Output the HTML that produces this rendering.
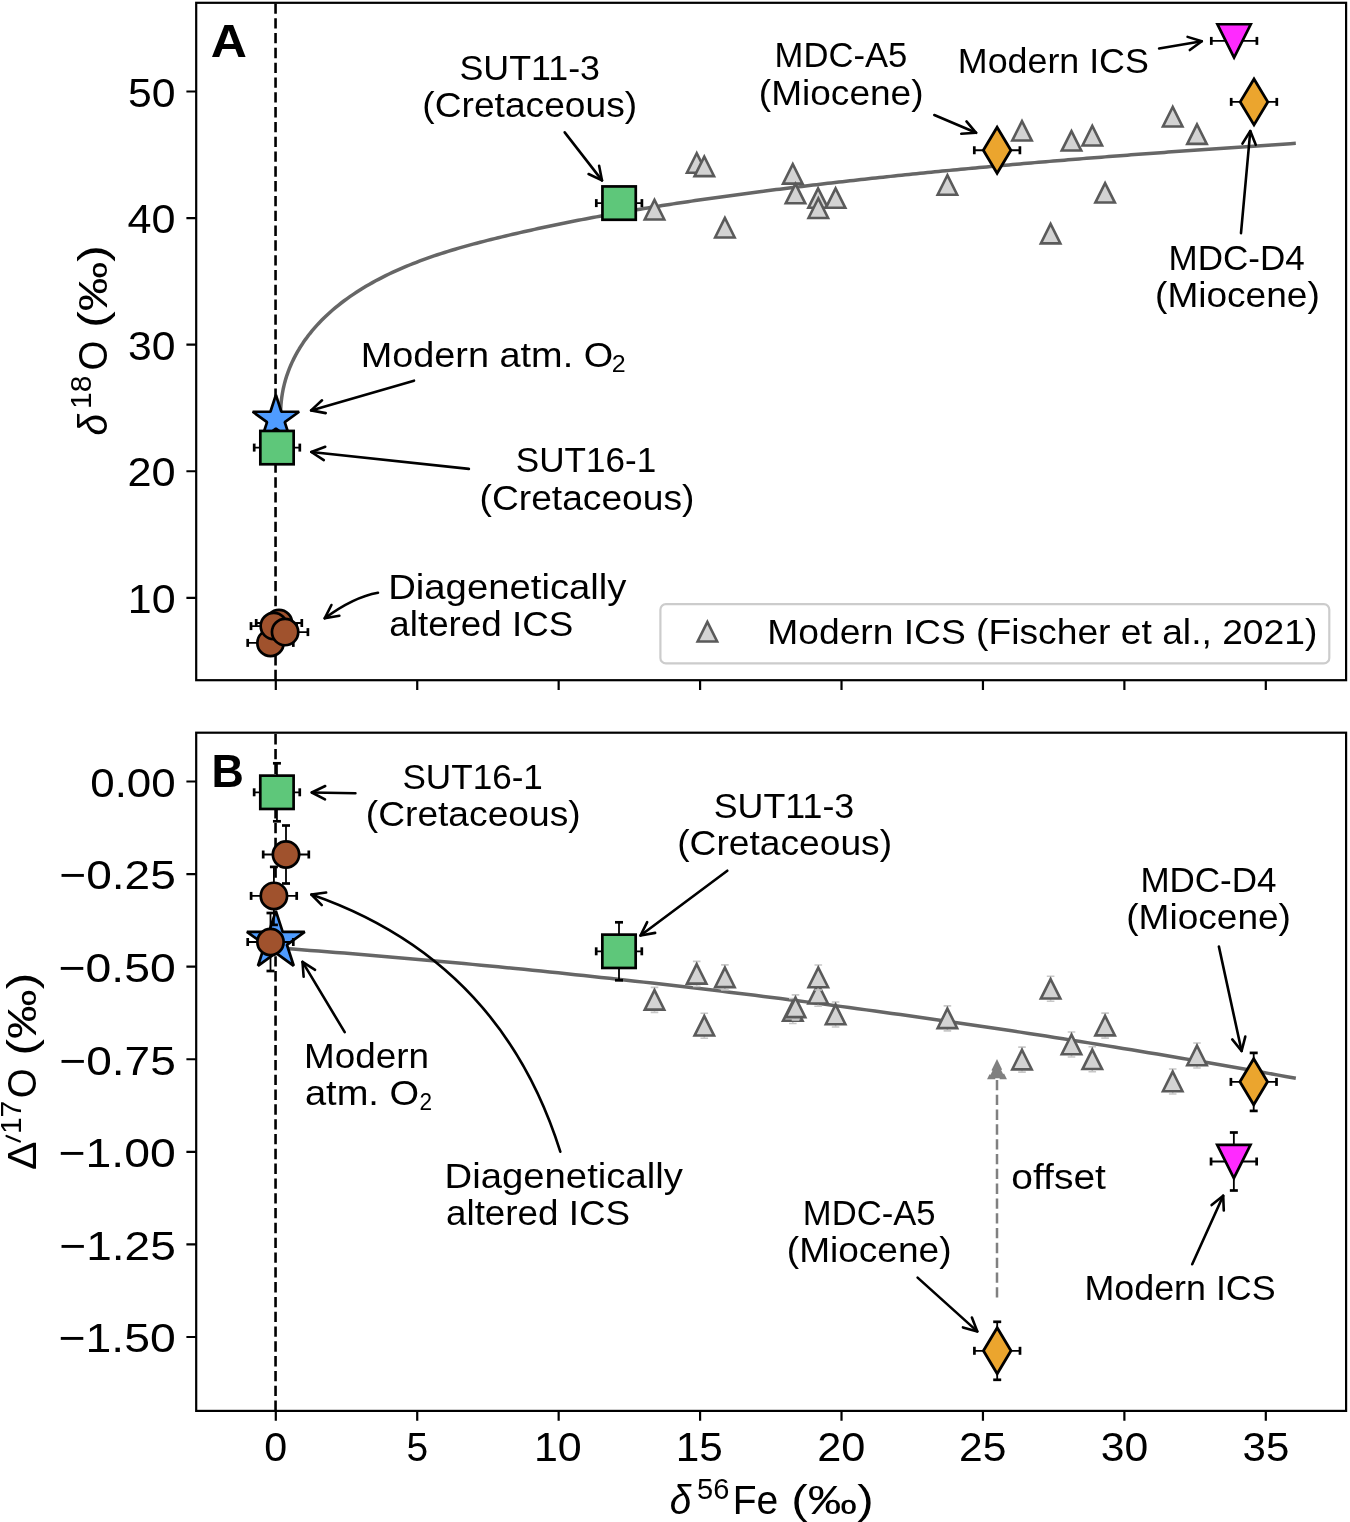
<!DOCTYPE html><html><head><meta charset="utf-8"><style>html,body{margin:0;padding:0;background:#fff;}svg{display:block;will-change:transform;}text{font-family:"Liberation Sans",sans-serif;fill:#000;}</style></head><body>
<svg width="1350" height="1522" viewBox="0 0 1350 1522">
<rect width="1350" height="1522" fill="#fff"/>
<path d="M275.55 680.2V2.8" stroke="#000" stroke-width="2.6" stroke-dasharray="10.35 4.46"/>
<path d="M275.55 1410.9V732.7" stroke="#000" stroke-width="2.6" stroke-dasharray="10.35 4.46"/>
<path d="M280.77 420.78L280.63 416.74L280.61 412.74L280.72 408.79L280.96 404.89L281.31 401.03L281.78 397.22L282.36 393.45L283.06 389.73L283.86 386.06L284.78 382.43L285.79 378.85L286.91 375.31L288.14 371.82L289.45 368.39L290.87 364.99L292.37 361.65L293.97 358.36L295.66 355.11L297.43 351.91L299.28 348.77L301.22 345.67L303.23 342.62L305.32 339.62L307.48 336.67L309.71 333.78L312.02 330.93L314.39 328.14L316.82 325.39L319.31 322.7L321.87 320.06L324.48 317.47L327.14 314.94L329.86 312.45L332.63 310.02L335.45 307.63L338.32 305.29L341.23 303L344.19 300.76L347.18 298.57L350.22 296.42L353.29 294.32L356.4 292.26L359.55 290.25L362.72 288.28L365.93 286.35L369.17 284.47L372.43 282.63L375.71 280.83L379.02 279.08L382.35 277.36L385.69 275.68L389.06 274.04L392.43 272.45L395.83 270.88L399.23 269.36L402.65 267.87L406.08 266.42L409.52 265L412.97 263.61L416.44 262.26L419.91 260.93L423.4 259.64L426.89 258.38L430.4 257.14L433.91 255.93L437.43 254.75L440.96 253.59L444.5 252.46L448.05 251.35L451.6 250.26L455.17 249.2L458.73 248.15L462.31 247.13L465.88 246.12L469.47 245.13L473.06 244.16L476.65 243.2L480.25 242.26L483.85 241.33L487.46 240.42L491.06 239.51L494.67 238.62L498.28 237.74L501.9 236.86L505.51 236L509.13 235.14L512.75 234.29L516.37 233.45L519.99 232.62L523.61 231.79L527.24 230.98L530.86 230.17L534.49 229.37L538.12 228.57L541.75 227.79L545.38 227.01L549.01 226.24L552.64 225.47L556.28 224.72L559.92 223.97L563.55 223.23L567.19 222.49L570.83 221.76L574.47 221.04L578.12 220.33L581.76 219.62L585.4 218.92L589.05 218.23L592.7 217.54L596.34 216.86L599.99 216.18L603.64 215.51L607.3 214.85L610.95 214.19L614.6 213.54L618.26 212.9L621.91 212.26L625.57 211.63L629.23 211L632.88 210.38L636.54 209.76L640.2 209.15L643.87 208.54L647.53 207.94L651.19 207.35L654.86 206.76L658.52 206.17L662.19 205.59L665.85 205.02L669.52 204.45L673.19 203.88L676.86 203.32L680.53 202.76L684.2 202.21L687.87 201.66L691.54 201.12L695.21 200.58L698.89 200.04L702.56 199.51L706.23 198.99L709.91 198.46L713.58 197.94L717.26 197.43L720.94 196.91L724.62 196.41L728.29 195.9L731.97 195.4L735.65 194.9L739.33 194.4L743.01 193.91L746.69 193.42L750.37 192.94L754.05 192.45L757.74 191.97L761.42 191.5L765.1 191.02L768.78 190.55L772.47 190.08L776.15 189.61L779.84 189.15L783.52 188.69L787.21 188.23L790.89 187.77L794.58 187.32L798.26 186.87L801.95 186.42L805.64 185.97L809.32 185.53L813.01 185.09L816.7 184.65L820.39 184.21L824.08 183.78L827.76 183.35L831.45 182.92L835.14 182.49L838.83 182.07L842.52 181.64L846.21 181.23L849.91 180.81L853.6 180.39L857.29 179.98L860.98 179.57L864.67 179.16L868.36 178.76L872.06 178.35L875.75 177.95L879.44 177.55L883.14 177.16L886.83 176.76L890.53 176.37L894.22 175.98L897.91 175.59L901.61 175.21L905.3 174.82L909 174.44L912.7 174.06L916.39 173.69L920.09 173.31L923.78 172.94L927.48 172.57L931.18 172.2L934.88 171.83L938.57 171.47L942.27 171.1L945.97 170.74L949.67 170.38L953.37 170.03L957.06 169.67L960.76 169.32L964.46 168.97L968.16 168.62L971.86 168.27L975.56 167.92L979.26 167.58L982.96 167.24L986.66 166.9L990.36 166.56L994.06 166.22L997.76 165.89L1001.46 165.55L1005.16 165.22L1008.86 164.89L1012.57 164.56L1016.27 164.24L1019.97 163.91L1023.67 163.59L1027.37 163.27L1031.07 162.95L1034.78 162.63L1038.48 162.31L1042.18 162L1045.88 161.68L1049.59 161.37L1053.29 161.06L1056.99 160.75L1060.7 160.44L1064.4 160.14L1068.1 159.83L1071.81 159.53L1075.51 159.23L1079.21 158.93L1082.92 158.63L1086.62 158.33L1090.33 158.04L1094.03 157.74L1097.73 157.45L1101.44 157.16L1105.14 156.87L1108.85 156.58L1112.55 156.29L1116.25 156.01L1119.96 155.72L1123.66 155.44L1127.37 155.15L1131.07 154.87L1134.78 154.59L1138.48 154.31L1142.19 154.03L1145.89 153.76L1149.6 153.48L1153.3 153.21L1157.01 152.93L1160.71 152.66L1164.42 152.39L1168.12 152.12L1171.83 151.85L1175.53 151.58L1179.24 151.32L1182.94 151.05L1186.65 150.79L1190.35 150.52L1194.06 150.26L1197.76 150L1201.47 149.74L1205.17 149.48L1208.88 149.22L1212.58 148.96L1216.28 148.7L1219.99 148.45L1223.69 148.19L1227.4 147.94L1231.1 147.68L1234.81 147.43L1238.51 147.18L1242.22 146.93L1245.92 146.67L1249.63 146.42L1253.33 146.18L1257.03 145.93L1260.74 145.68L1264.44 145.43L1268.15 145.19L1271.85 144.94L1275.55 144.7L1279.26 144.45L1282.96 144.21L1286.66 143.96L1290.37 143.72L1294.07 143.48" fill="none" stroke="#666" stroke-width="3.5" stroke-linecap="square" stroke-linejoin="round"/>
<path d="M275.8 947.8L284.36 948.44L292.91 949.08L301.47 949.73L310.03 950.39L318.59 951.05L327.14 951.73L335.7 952.41L344.26 953.1L352.81 953.79L361.37 954.5L369.93 955.21L378.49 955.93L387.04 956.66L395.6 957.39L404.16 958.14L412.71 958.89L421.27 959.65L429.83 960.42L438.39 961.19L446.94 961.97L455.5 962.76L464.06 963.56L472.61 964.37L481.17 965.18L489.73 966L498.28 966.83L506.84 967.67L515.4 968.51L523.96 969.36L532.51 970.23L541.07 971.09L549.63 971.97L558.18 972.85L566.74 973.74L575.3 974.64L583.86 975.55L592.41 976.47L600.97 977.39L609.53 978.32L618.08 979.26L626.64 980.2L635.2 981.16L643.76 982.12L652.31 983.09L660.87 984.07L669.43 985.05L677.98 986.04L686.54 987.04L695.1 988.05L703.66 989.07L712.21 990.09L720.77 991.12L729.33 992.16L737.88 993.21L746.44 994.27L755 995.33L763.56 996.4L772.11 997.48L780.67 998.56L789.23 999.66L797.78 1000.76L806.34 1001.87L814.9 1002.99L823.45 1004.11L832.01 1005.25L840.57 1006.39L849.13 1007.54L857.68 1008.69L866.24 1009.86L874.8 1011.03L883.35 1012.21L891.91 1013.4L900.47 1014.59L909.03 1015.79L917.58 1017L926.14 1018.22L934.7 1019.45L943.25 1020.68L951.81 1021.93L960.37 1023.18L968.93 1024.43L977.48 1025.7L986.04 1026.97L994.6 1028.25L1003.15 1029.54L1011.71 1030.84L1020.27 1032.14L1028.83 1033.46L1037.38 1034.78L1045.94 1036.1L1054.5 1037.44L1063.05 1038.78L1071.61 1040.13L1080.17 1041.49L1088.73 1042.86L1097.28 1044.24L1105.84 1045.62L1114.4 1047.01L1122.95 1048.41L1131.51 1049.81L1140.07 1051.23L1148.63 1052.65L1157.18 1054.08L1165.74 1055.51L1174.3 1056.96L1182.85 1058.41L1191.41 1059.87L1199.97 1061.34L1208.52 1062.81L1217.08 1064.3L1225.64 1065.79L1234.2 1067.29L1242.75 1068.8L1251.31 1070.31L1259.87 1071.83L1268.42 1073.36L1276.98 1074.9L1285.54 1076.45L1294.1 1078" fill="none" stroke="#666" stroke-width="3.5" stroke-linecap="square"/>
<path d="M654.5 199.95L644.75 219.45L664.25 219.45Z" fill="#d3d3d3" stroke="#5a5a5a" stroke-width="2.6" stroke-linejoin="miter"/>
<path d="M696.7 153.25L686.95 172.75L706.45 172.75Z" fill="#d3d3d3" stroke="#5a5a5a" stroke-width="2.6" stroke-linejoin="miter"/>
<path d="M704.3 156.6L694.55 176.1L714.05 176.1Z" fill="#d3d3d3" stroke="#5a5a5a" stroke-width="2.6" stroke-linejoin="miter"/>
<path d="M724.9 217.95L715.15 237.45L734.65 237.45Z" fill="#d3d3d3" stroke="#5a5a5a" stroke-width="2.6" stroke-linejoin="miter"/>
<path d="M792.8 164.15L783.05 183.65L802.55 183.65Z" fill="#d3d3d3" stroke="#5a5a5a" stroke-width="2.6" stroke-linejoin="miter"/>
<path d="M795.5 183.8L785.75 203.3L805.25 203.3Z" fill="#d3d3d3" stroke="#5a5a5a" stroke-width="2.6" stroke-linejoin="miter"/>
<path d="M818.1 188.3L808.35 207.8L827.85 207.8Z" fill="#d3d3d3" stroke="#5a5a5a" stroke-width="2.6" stroke-linejoin="miter"/>
<path d="M818.3 198.5L808.55 218L828.05 218Z" fill="#d3d3d3" stroke="#5a5a5a" stroke-width="2.6" stroke-linejoin="miter"/>
<path d="M835.6 188.3L825.85 207.8L845.35 207.8Z" fill="#d3d3d3" stroke="#5a5a5a" stroke-width="2.6" stroke-linejoin="miter"/>
<path d="M947.4 175.25L937.65 194.75L957.15 194.75Z" fill="#d3d3d3" stroke="#5a5a5a" stroke-width="2.6" stroke-linejoin="miter"/>
<path d="M1022 121.05L1012.25 140.55L1031.75 140.55Z" fill="#d3d3d3" stroke="#5a5a5a" stroke-width="2.6" stroke-linejoin="miter"/>
<path d="M1050.6 223.85L1040.85 243.35L1060.35 243.35Z" fill="#d3d3d3" stroke="#5a5a5a" stroke-width="2.6" stroke-linejoin="miter"/>
<path d="M1071.5 131.05L1061.75 150.55L1081.25 150.55Z" fill="#d3d3d3" stroke="#5a5a5a" stroke-width="2.6" stroke-linejoin="miter"/>
<path d="M1092.3 125.95L1082.55 145.45L1102.05 145.45Z" fill="#d3d3d3" stroke="#5a5a5a" stroke-width="2.6" stroke-linejoin="miter"/>
<path d="M1105.1 183.05L1095.35 202.55L1114.85 202.55Z" fill="#d3d3d3" stroke="#5a5a5a" stroke-width="2.6" stroke-linejoin="miter"/>
<path d="M1172.7 107L1162.95 126.5L1182.45 126.5Z" fill="#d3d3d3" stroke="#5a5a5a" stroke-width="2.6" stroke-linejoin="miter"/>
<path d="M1197 124.35L1187.25 143.85L1206.75 143.85Z" fill="#d3d3d3" stroke="#5a5a5a" stroke-width="2.6" stroke-linejoin="miter"/>
<path d="M654.5 987.4V1012.4 M650.7 987.4H658.3 M650.7 1012.4H658.3" stroke="#c8c8c8" stroke-width="1.6"/>
<path d="M654.5 990.15L644.75 1009.65L664.25 1009.65Z" fill="#d3d3d3" stroke="#5a5a5a" stroke-width="2.6" stroke-linejoin="miter"/>
<path d="M696.7 961.4V986.4 M692.9 961.4H700.5 M692.9 986.4H700.5" stroke="#c8c8c8" stroke-width="1.6"/>
<path d="M696.7 964.15L686.95 983.65L706.45 983.65Z" fill="#d3d3d3" stroke="#5a5a5a" stroke-width="2.6" stroke-linejoin="miter"/>
<path d="M704.3 1013.3V1038.3 M700.5 1013.3H708.1 M700.5 1038.3H708.1" stroke="#c8c8c8" stroke-width="1.6"/>
<path d="M704.3 1016.05L694.55 1035.55L714.05 1035.55Z" fill="#d3d3d3" stroke="#5a5a5a" stroke-width="2.6" stroke-linejoin="miter"/>
<path d="M724.9 964.9V989.9 M721.1 964.9H728.7 M721.1 989.9H728.7" stroke="#c8c8c8" stroke-width="1.6"/>
<path d="M724.9 967.65L715.15 987.15L734.65 987.15Z" fill="#d3d3d3" stroke="#5a5a5a" stroke-width="2.6" stroke-linejoin="miter"/>
<path d="M792.8 998.55V1023.55 M789 998.55H796.6 M789 1023.55H796.6" stroke="#c8c8c8" stroke-width="1.6"/>
<path d="M792.8 1001.3L783.05 1020.8L802.55 1020.8Z" fill="#d3d3d3" stroke="#5a5a5a" stroke-width="2.6" stroke-linejoin="miter"/>
<path d="M795.5 994.9V1019.9 M791.7 994.9H799.3 M791.7 1019.9H799.3" stroke="#c8c8c8" stroke-width="1.6"/>
<path d="M795.5 997.65L785.75 1017.15L805.25 1017.15Z" fill="#d3d3d3" stroke="#5a5a5a" stroke-width="2.6" stroke-linejoin="miter"/>
<path d="M818.1 981.2V1006.2 M814.3 981.2H821.9 M814.3 1006.2H821.9" stroke="#c8c8c8" stroke-width="1.6"/>
<path d="M818.1 983.95L808.35 1003.45L827.85 1003.45Z" fill="#d3d3d3" stroke="#5a5a5a" stroke-width="2.6" stroke-linejoin="miter"/>
<path d="M818.3 964.95V989.95 M814.5 964.95H822.1 M814.5 989.95H822.1" stroke="#c8c8c8" stroke-width="1.6"/>
<path d="M818.3 967.7L808.55 987.2L828.05 987.2Z" fill="#d3d3d3" stroke="#5a5a5a" stroke-width="2.6" stroke-linejoin="miter"/>
<path d="M835.6 1001.95V1026.95 M831.8 1001.95H839.4 M831.8 1026.95H839.4" stroke="#c8c8c8" stroke-width="1.6"/>
<path d="M835.6 1004.7L825.85 1024.2L845.35 1024.2Z" fill="#d3d3d3" stroke="#5a5a5a" stroke-width="2.6" stroke-linejoin="miter"/>
<path d="M947.4 1005.9V1030.9 M943.6 1005.9H951.2 M943.6 1030.9H951.2" stroke="#c8c8c8" stroke-width="1.6"/>
<path d="M947.4 1008.65L937.65 1028.15L957.15 1028.15Z" fill="#d3d3d3" stroke="#5a5a5a" stroke-width="2.6" stroke-linejoin="miter"/>
<path d="M1022 1047.1V1072.1 M1018.2 1047.1H1025.8 M1018.2 1072.1H1025.8" stroke="#c8c8c8" stroke-width="1.6"/>
<path d="M1022 1049.85L1012.25 1069.35L1031.75 1069.35Z" fill="#d3d3d3" stroke="#5a5a5a" stroke-width="2.6" stroke-linejoin="miter"/>
<path d="M1050.6 976.3V1001.3 M1046.8 976.3H1054.4 M1046.8 1001.3H1054.4" stroke="#c8c8c8" stroke-width="1.6"/>
<path d="M1050.6 979.05L1040.85 998.55L1060.35 998.55Z" fill="#d3d3d3" stroke="#5a5a5a" stroke-width="2.6" stroke-linejoin="miter"/>
<path d="M1071.5 1032V1057 M1067.7 1032H1075.3 M1067.7 1057H1075.3" stroke="#c8c8c8" stroke-width="1.6"/>
<path d="M1071.5 1034.75L1061.75 1054.25L1081.25 1054.25Z" fill="#d3d3d3" stroke="#5a5a5a" stroke-width="2.6" stroke-linejoin="miter"/>
<path d="M1092.3 1046.8V1071.8 M1088.5 1046.8H1096.1 M1088.5 1071.8H1096.1" stroke="#c8c8c8" stroke-width="1.6"/>
<path d="M1092.3 1049.55L1082.55 1069.05L1102.05 1069.05Z" fill="#d3d3d3" stroke="#5a5a5a" stroke-width="2.6" stroke-linejoin="miter"/>
<path d="M1105.1 1013.15V1038.15 M1101.3 1013.15H1108.9 M1101.3 1038.15H1108.9" stroke="#c8c8c8" stroke-width="1.6"/>
<path d="M1105.1 1015.9L1095.35 1035.4L1114.85 1035.4Z" fill="#d3d3d3" stroke="#5a5a5a" stroke-width="2.6" stroke-linejoin="miter"/>
<path d="M1172.7 1068.95V1093.95 M1168.9 1068.95H1176.5 M1168.9 1093.95H1176.5" stroke="#c8c8c8" stroke-width="1.6"/>
<path d="M1172.7 1071.7L1162.95 1091.2L1182.45 1091.2Z" fill="#d3d3d3" stroke="#5a5a5a" stroke-width="2.6" stroke-linejoin="miter"/>
<path d="M1197 1042.95V1067.95 M1193.2 1042.95H1200.8 M1193.2 1067.95H1200.8" stroke="#c8c8c8" stroke-width="1.6"/>
<path d="M1197 1045.7L1187.25 1065.2L1206.75 1065.2Z" fill="#d3d3d3" stroke="#5a5a5a" stroke-width="2.6" stroke-linejoin="miter"/>
<path d="M275.9 394.9L270.42 411.76L252.69 411.76L267.04 422.18L261.56 439.04L275.9 428.62L290.24 439.04L284.76 422.18L299.11 411.76L281.38 411.76Z" fill="#4f9cff" stroke="#000" stroke-width="2.7" stroke-linejoin="bevel"/>
<path d="M254.2 447.6H299.8" stroke="#000" stroke-width="1.8"/><path d="M254.2 443.6V451.6" stroke="#000" stroke-width="2.7"/><path d="M299.8 443.6V451.6" stroke="#000" stroke-width="2.7"/>
<rect x="260.33" y="430.94" width="33.33" height="33.33" fill="#5ec77a" stroke="#000" stroke-width="2.7"/>
<path d="M596.3 203.1H641.9" stroke="#000" stroke-width="1.8"/><path d="M596.3 199.1V207.1" stroke="#000" stroke-width="2.7"/><path d="M641.9 199.1V207.1" stroke="#000" stroke-width="2.7"/>
<rect x="602.44" y="186.44" width="33.33" height="33.33" fill="#5ec77a" stroke="#000" stroke-width="2.7"/>
<path d="M974.3 150.25H1019.9" stroke="#000" stroke-width="1.8"/><path d="M974.3 146.25V154.25" stroke="#000" stroke-width="2.7"/><path d="M1019.9 146.25V154.25" stroke="#000" stroke-width="2.7"/>
<path d="M997.1 127.27L1010.89 150.25L997.1 173.23L983.31 150.25Z" fill="#eba52e" stroke="#000" stroke-width="2.8" stroke-linejoin="miter"/>
<path d="M1231.2 101.9H1276.8" stroke="#000" stroke-width="1.8"/><path d="M1231.2 97.9V105.9" stroke="#000" stroke-width="2.7"/><path d="M1276.8 97.9V105.9" stroke="#000" stroke-width="2.7"/>
<path d="M1254 78.92L1267.79 101.9L1254 124.88L1240.21 101.9Z" fill="#eba52e" stroke="#000" stroke-width="2.8" stroke-linejoin="miter"/>
<path d="M1211.3 40.9H1256.9" stroke="#000" stroke-width="1.8"/><path d="M1211.3 36.9V44.9" stroke="#000" stroke-width="2.7"/><path d="M1256.9 36.9V44.9" stroke="#000" stroke-width="2.7"/>
<path d="M1234.1 57.55L1217.45 24.25L1250.75 24.25Z" fill="#ff2aff" stroke="#000" stroke-width="2.7" stroke-linejoin="miter"/>
<path d="M256.2 623H301.8" stroke="#000" stroke-width="1.8"/><path d="M256.2 619V627" stroke="#000" stroke-width="2.7"/><path d="M301.8 619V627" stroke="#000" stroke-width="2.7"/>
<path d="M247.7 642.9H293.3" stroke="#000" stroke-width="1.8"/><path d="M247.7 638.9V646.9" stroke="#000" stroke-width="2.7"/><path d="M293.3 638.9V646.9" stroke="#000" stroke-width="2.7"/>
<path d="M251 626.1H296.6" stroke="#000" stroke-width="1.8"/><path d="M251 622.1V630.1" stroke="#000" stroke-width="2.7"/><path d="M296.6 622.1V630.1" stroke="#000" stroke-width="2.7"/>
<path d="M262.3 632.1H307.9" stroke="#000" stroke-width="1.8"/><path d="M262.3 628.1V636.1" stroke="#000" stroke-width="2.7"/><path d="M307.9 628.1V636.1" stroke="#000" stroke-width="2.7"/>
<circle cx="279" cy="623" r="13.15" fill="#a0522d" stroke="#000" stroke-width="2.7"/>
<circle cx="270.5" cy="642.9" r="13.15" fill="#a0522d" stroke="#000" stroke-width="2.7"/>
<circle cx="273.8" cy="626.1" r="13.15" fill="#a0522d" stroke="#000" stroke-width="2.7"/>
<circle cx="285.1" cy="632.1" r="13.15" fill="#a0522d" stroke="#000" stroke-width="2.7"/>
<path d="M275.85 910.8L269.02 931.81L246.94 931.81L264.81 944.79L257.98 965.79L275.85 952.81L293.72 965.79L286.89 944.79L304.76 931.81L282.68 931.81Z" fill="#4f9cff" stroke="#000" stroke-width="2.7" stroke-linejoin="bevel"/>
<path d="M254.15 792.3H299.75" stroke="#000" stroke-width="1.8"/><path d="M254.15 788.3V796.3" stroke="#000" stroke-width="2.7"/><path d="M299.75 788.3V796.3" stroke="#000" stroke-width="2.7"/><path d="M276.95 763.3V821.3" stroke="#000" stroke-width="1.8"/><path d="M272.95 763.3H280.95" stroke="#000" stroke-width="2.7"/><path d="M272.95 821.3H280.95" stroke="#000" stroke-width="2.7"/>
<rect x="260.28" y="775.63" width="33.33" height="33.33" fill="#5ec77a" stroke="#000" stroke-width="2.7"/>
<path d="M596.2 951.3H641.8" stroke="#000" stroke-width="1.8"/><path d="M596.2 947.3V955.3" stroke="#000" stroke-width="2.7"/><path d="M641.8 947.3V955.3" stroke="#000" stroke-width="2.7"/><path d="M619 922.3V980.3" stroke="#000" stroke-width="1.8"/><path d="M615 922.3H623" stroke="#000" stroke-width="2.7"/><path d="M615 980.3H623" stroke="#000" stroke-width="2.7"/>
<rect x="602.34" y="934.63" width="33.33" height="33.33" fill="#5ec77a" stroke="#000" stroke-width="2.7"/>
<path d="M1230.9 1081.9H1276.5" stroke="#000" stroke-width="1.8"/><path d="M1230.9 1077.9V1085.9" stroke="#000" stroke-width="2.7"/><path d="M1276.5 1077.9V1085.9" stroke="#000" stroke-width="2.7"/><path d="M1253.7 1052.9V1110.9" stroke="#000" stroke-width="1.8"/><path d="M1249.7 1052.9H1257.7" stroke="#000" stroke-width="2.7"/><path d="M1249.7 1110.9H1257.7" stroke="#000" stroke-width="2.7"/>
<path d="M1253.7 1058.72L1267.49 1081.7L1253.7 1104.68L1239.91 1081.7Z" fill="#eba52e" stroke="#000" stroke-width="2.8" stroke-linejoin="miter"/>
<path d="M974.4 1350.8H1020" stroke="#000" stroke-width="1.8"/><path d="M974.4 1346.8V1354.8" stroke="#000" stroke-width="2.7"/><path d="M1020 1346.8V1354.8" stroke="#000" stroke-width="2.7"/><path d="M997.2 1321.8V1379.8" stroke="#000" stroke-width="1.8"/><path d="M993.2 1321.8H1001.2" stroke="#000" stroke-width="2.7"/><path d="M993.2 1379.8H1001.2" stroke="#000" stroke-width="2.7"/>
<path d="M997.2 1327.82L1010.99 1350.8L997.2 1373.78L983.41 1350.8Z" fill="#eba52e" stroke="#000" stroke-width="2.8" stroke-linejoin="miter"/>
<path d="M1211.05 1161.5H1256.65" stroke="#000" stroke-width="1.8"/><path d="M1211.05 1157.5V1165.5" stroke="#000" stroke-width="2.7"/><path d="M1256.65 1157.5V1165.5" stroke="#000" stroke-width="2.7"/><path d="M1233.85 1132.5V1190.5" stroke="#000" stroke-width="1.8"/><path d="M1229.85 1132.5H1237.85" stroke="#000" stroke-width="2.7"/><path d="M1229.85 1190.5H1237.85" stroke="#000" stroke-width="2.7"/>
<path d="M1233.85 1178.15L1217.2 1144.85L1250.5 1144.85Z" fill="#ff2aff" stroke="#000" stroke-width="2.7" stroke-linejoin="miter"/>
<path d="M263.2 854.5H308.8" stroke="#000" stroke-width="1.8"/><path d="M263.2 850.5V858.5" stroke="#000" stroke-width="2.7"/><path d="M308.8 850.5V858.5" stroke="#000" stroke-width="2.7"/><path d="M286 825.5V883.5" stroke="#000" stroke-width="1.8"/><path d="M282 825.5H290" stroke="#000" stroke-width="2.7"/><path d="M282 883.5H290" stroke="#000" stroke-width="2.7"/>
<path d="M251.1 895.9H296.7" stroke="#000" stroke-width="1.8"/><path d="M251.1 891.9V899.9" stroke="#000" stroke-width="2.7"/><path d="M296.7 891.9V899.9" stroke="#000" stroke-width="2.7"/><path d="M273.9 866.9V924.9" stroke="#000" stroke-width="1.8"/><path d="M269.9 866.9H277.9" stroke="#000" stroke-width="2.7"/><path d="M269.9 924.9H277.9" stroke="#000" stroke-width="2.7"/>
<path d="M247.7 942H293.3" stroke="#000" stroke-width="1.8"/><path d="M247.7 938V946" stroke="#000" stroke-width="2.7"/><path d="M293.3 938V946" stroke="#000" stroke-width="2.7"/><path d="M270.5 913V971" stroke="#000" stroke-width="1.8"/><path d="M266.5 913H274.5" stroke="#000" stroke-width="2.7"/><path d="M266.5 971H274.5" stroke="#000" stroke-width="2.7"/>
<circle cx="286" cy="854.5" r="13.15" fill="#a0522d" stroke="#000" stroke-width="2.7"/>
<circle cx="273.9" cy="895.9" r="13.15" fill="#a0522d" stroke="#000" stroke-width="2.7"/>
<circle cx="270.5" cy="942" r="13.15" fill="#a0522d" stroke="#000" stroke-width="2.7"/>
<path d="M997 1297.6V1079" stroke="#808080" stroke-width="2.5" stroke-dasharray="10.35 4.46"/>
<path d="M997 1061.5L988.8 1078.2L1005.2 1078.2Z" fill="#808080" stroke="#808080" stroke-width="2.2" stroke-dasharray="10.3 4.45"/>
<rect x="196.2" y="2.8" width="1149.9" height="677.4" fill="none" stroke="#000" stroke-width="2.2"/>
<rect x="196.2" y="732.7" width="1149.9" height="678.2" fill="none" stroke="#000" stroke-width="2.2"/>
<path d="M275.8 680.2v9.8M417.23 680.2v9.8M558.66 680.2v9.8M700.09 680.2v9.8M841.52 680.2v9.8M982.95 680.2v9.8M1124.38 680.2v9.8M1265.81 680.2v9.8M275.8 1410.9v9.8M417.23 1410.9v9.8M558.66 1410.9v9.8M700.09 1410.9v9.8M841.52 1410.9v9.8M982.95 1410.9v9.8M1124.38 1410.9v9.8M1265.81 1410.9v9.8M186.4 597.82h9.8M186.4 471.24h9.8M186.4 344.66h9.8M186.4 218.08h9.8M186.4 91.5h9.8M186.4 781.5h9.8M186.4 874.08h9.8M186.4 966.66h9.8M186.4 1059.25h9.8M186.4 1151.83h9.8M186.4 1244.41h9.8M186.4 1336.99h9.8" stroke="#000" stroke-width="2.2"/>
<text x="127.74" y="613.02" font-size="41.26" textLength="47.84" lengthAdjust="spacingAndGlyphs">10</text>
<text x="127.4" y="486.44" font-size="41.26" textLength="48.19" lengthAdjust="spacingAndGlyphs">20</text>
<text x="128.07" y="359.86" font-size="41.26" textLength="47.5" lengthAdjust="spacingAndGlyphs">30</text>
<text x="127.64" y="233.28" font-size="41.26" textLength="47.95" lengthAdjust="spacingAndGlyphs">40</text>
<text x="128.02" y="106.7" font-size="41.26" textLength="47.55" lengthAdjust="spacingAndGlyphs">50</text>
<text x="90.25" y="796.9" font-size="41.26" textLength="85.36" lengthAdjust="spacingAndGlyphs">0.00</text>
<text x="59.3" y="889.48" font-size="41.26" textLength="116.53" lengthAdjust="spacingAndGlyphs">−0.25</text>
<text x="58.47" y="982.06" font-size="41.26" textLength="117.24" lengthAdjust="spacingAndGlyphs">−0.50</text>
<text x="59.3" y="1074.65" font-size="41.26" textLength="116.53" lengthAdjust="spacingAndGlyphs">−0.75</text>
<text x="58.47" y="1167.23" font-size="41.26" textLength="117.24" lengthAdjust="spacingAndGlyphs">−1.00</text>
<text x="59.3" y="1259.81" font-size="41.26" textLength="116.53" lengthAdjust="spacingAndGlyphs">−1.25</text>
<text x="58.47" y="1352.39" font-size="41.26" textLength="117.24" lengthAdjust="spacingAndGlyphs">−1.50</text>
<text x="264.33" y="1461.2" font-size="41.26" textLength="22.94" lengthAdjust="spacingAndGlyphs">0</text>
<text x="406.44" y="1461.2" font-size="41.26" textLength="21.65" lengthAdjust="spacingAndGlyphs">5</text>
<text x="533.94" y="1461.2" font-size="41.26" textLength="47.84" lengthAdjust="spacingAndGlyphs">10</text>
<text x="675.83" y="1461.2" font-size="41.26" textLength="47.07" lengthAdjust="spacingAndGlyphs">15</text>
<text x="817.18" y="1461.2" font-size="41.26" textLength="48.19" lengthAdjust="spacingAndGlyphs">20</text>
<text x="959.06" y="1461.2" font-size="41.26" textLength="47.43" lengthAdjust="spacingAndGlyphs">25</text>
<text x="1100.65" y="1461.2" font-size="41.26" textLength="47.5" lengthAdjust="spacingAndGlyphs">30</text>
<text x="1242.52" y="1461.2" font-size="41.26" textLength="46.75" lengthAdjust="spacingAndGlyphs">35</text>
<text x="669.63" y="1514.3" font-size="40.45" textLength="21.53" lengthAdjust="spacingAndGlyphs" font-style="italic">δ</text>
<text x="697.04" y="1498.6" font-size="28.88" textLength="32.23" lengthAdjust="spacingAndGlyphs">56</text>
<text x="732.8" y="1514.3" font-size="40.85" textLength="45.53" lengthAdjust="spacingAndGlyphs">Fe</text>
<text x="791.34" y="1514.3" font-size="40.85" textLength="82.33" lengthAdjust="spacingAndGlyphs">(‰)</text>
<g transform="translate(106.6 341.65) rotate(-90)"><text x="-93.91" y="0" font-size="40.45" textLength="21.47" lengthAdjust="spacingAndGlyphs" font-style="italic">δ</text><text x="-67.34" y="-15.6" font-size="28.88" textLength="33.39" lengthAdjust="spacingAndGlyphs">18</text><text x="-28.97" y="0" font-size="41.26" textLength="29.91" lengthAdjust="spacingAndGlyphs">O</text><text x="13.91" y="0" font-size="40.85" textLength="82.6" lengthAdjust="spacingAndGlyphs">(‰)</text></g>
<g transform="translate(36.3 1072.4) rotate(-90)"><text x="-97.57" y="0" font-size="41.26" textLength="28.55" lengthAdjust="spacingAndGlyphs">Δ</text><path d="M-69.1 -16.4L-63.5 -29.8" stroke="#000" stroke-width="2.2" stroke-linecap="round"/><text x="-61.69" y="-15" font-size="28.88" textLength="33.4" lengthAdjust="spacingAndGlyphs">17</text><text x="-25.92" y="0" font-size="41.26" textLength="29.91" lengthAdjust="spacingAndGlyphs">O</text><text x="16.96" y="0" font-size="40.85" textLength="82.6" lengthAdjust="spacingAndGlyphs">(‰)</text></g>
<text x="210.65" y="56.8" font-size="47.15" textLength="36.17" lengthAdjust="spacingAndGlyphs" font-weight="bold">A</text>
<text x="211.41" y="786.6" font-size="47.15" textLength="32.33" lengthAdjust="spacingAndGlyphs" font-weight="bold">B</text>
<rect x="660.4" y="604.2" width="668.9" height="59.2" rx="5.5" ry="5.5" fill="#fff" fill-opacity="0.8" stroke="#cccccc" stroke-width="2.2"/>
<path d="M707.4 621.95L697.65 641.45L717.15 641.45Z" fill="#d3d3d3" stroke="#5a5a5a" stroke-width="2.6" stroke-linejoin="miter"/>
<text x="767.25" y="643.6" font-size="34.93" textLength="550.07" lengthAdjust="spacingAndGlyphs">Modern ICS (Fischer et al., 2021)</text>
<text x="459.4" y="80" font-size="35.36" textLength="140.65" lengthAdjust="spacingAndGlyphs">SUT11-3</text><text x="422.34" y="117.3" font-size="34.73" textLength="214.83" lengthAdjust="spacingAndGlyphs">(Cretaceous)</text>
<text x="774.61" y="67.3" font-size="35.36" textLength="132.6" lengthAdjust="spacingAndGlyphs">MDC-A5</text><text x="758.85" y="104.6" font-size="34.76" textLength="164.7" lengthAdjust="spacingAndGlyphs">(Miocene)</text>
<text x="957.82" y="73" font-size="34.97" textLength="191.06" lengthAdjust="spacingAndGlyphs">Modern ICS</text>
<text x="1168.61" y="269.5" font-size="35.36" textLength="136.13" lengthAdjust="spacingAndGlyphs">MDC-D4</text><text x="1155.05" y="306.8" font-size="34.76" textLength="164.7" lengthAdjust="spacingAndGlyphs">(Miocene)</text>
<text x="360.7" y="367.1" font-size="34.8" textLength="252.42" lengthAdjust="spacingAndGlyphs">Modern atm. O</text>
<text x="611.74" y="372" font-size="24.75" textLength="13.92" lengthAdjust="spacingAndGlyphs">2</text>
<text x="515.86" y="472.4" font-size="35.36" textLength="140.41" lengthAdjust="spacingAndGlyphs">SUT16-1</text><text x="479.59" y="509.7" font-size="34.73" textLength="214.83" lengthAdjust="spacingAndGlyphs">(Cretaceous)</text>
<text x="388.16" y="598.9" font-size="34.71" textLength="238.32" lengthAdjust="spacingAndGlyphs">Diagenetically</text><text x="389.34" y="636.2" font-size="34.87" textLength="183.95" lengthAdjust="spacingAndGlyphs">altered ICS</text>
<path d="M564.7 132.4L602 180.4" stroke="#000" stroke-width="2.6" stroke-linecap="round"/><path d="M588.57 173.99L602 180.4L599.11 165.81" fill="none" stroke="#000" stroke-width="2.6" stroke-linecap="round" stroke-linejoin="round"/>
<path d="M934.3 115L976.1 132.8" stroke="#000" stroke-width="2.6" stroke-linecap="round"/><path d="M961.25 133.73L976.1 132.8L966.48 121.45" fill="none" stroke="#000" stroke-width="2.6" stroke-linecap="round" stroke-linejoin="round"/>
<path d="M1159.1 48.5L1201.8 41.2" stroke="#000" stroke-width="2.6" stroke-linecap="round"/><path d="M1189.81 50.02L1201.8 41.2L1187.57 36.87" fill="none" stroke="#000" stroke-width="2.6" stroke-linecap="round" stroke-linejoin="round"/>
<path d="M1241 233.2L1250.3 131" stroke="#000" stroke-width="2.6" stroke-linecap="round"/><path d="M1255.74 144.85L1250.3 131L1242.45 143.64" fill="none" stroke="#000" stroke-width="2.6" stroke-linecap="round" stroke-linejoin="round"/>
<path d="M414 380.7L311.1 410.4" stroke="#000" stroke-width="2.6" stroke-linecap="round"/><path d="M322.03 400.3L311.1 410.4L325.73 413.12" fill="none" stroke="#000" stroke-width="2.6" stroke-linecap="round" stroke-linejoin="round"/>
<path d="M468.9 468.9L311.3 452" stroke="#000" stroke-width="2.6" stroke-linecap="round"/><path d="M325.24 446.79L311.3 452L323.81 460.05" fill="none" stroke="#000" stroke-width="2.6" stroke-linecap="round" stroke-linejoin="round"/>
<path d="M378 592.7Q353.5 597 324.7 618.3" fill="none" stroke="#000" stroke-width="2.6" stroke-linecap="round"/><path d="M331.43 605.03L324.7 618.3L339.36 615.75" fill="none" stroke="#000" stroke-width="2.6" stroke-linecap="round" stroke-linejoin="round"/>
<text x="402.46" y="789" font-size="35.36" textLength="140.41" lengthAdjust="spacingAndGlyphs">SUT16-1</text><text x="365.79" y="826.3" font-size="34.73" textLength="214.83" lengthAdjust="spacingAndGlyphs">(Cretaceous)</text>
<text x="713.65" y="817.9" font-size="35.36" textLength="140.65" lengthAdjust="spacingAndGlyphs">SUT11-3</text><text x="677.19" y="855.2" font-size="34.73" textLength="214.83" lengthAdjust="spacingAndGlyphs">(Cretaceous)</text>
<text x="1140.41" y="891.8" font-size="35.36" textLength="136.13" lengthAdjust="spacingAndGlyphs">MDC-D4</text><text x="1126.25" y="929.1" font-size="34.76" textLength="164.7" lengthAdjust="spacingAndGlyphs">(Miocene)</text>
<text x="304.08" y="1068.3" font-size="34.78" textLength="124.91" lengthAdjust="spacingAndGlyphs">Modern</text>
<text x="304.98" y="1105.4" font-size="34.84" textLength="114.14" lengthAdjust="spacingAndGlyphs">atm. O</text>
<text x="419.46" y="1110.3" font-size="24.75" textLength="12.57" lengthAdjust="spacingAndGlyphs">2</text>
<text x="444.56" y="1188.1" font-size="34.71" textLength="238.32" lengthAdjust="spacingAndGlyphs">Diagenetically</text><text x="446.04" y="1225.2" font-size="34.87" textLength="183.95" lengthAdjust="spacingAndGlyphs">altered ICS</text>
<text x="1011.27" y="1188.6" font-size="34.66" textLength="94.62" lengthAdjust="spacingAndGlyphs">offset</text>
<text x="802.86" y="1225" font-size="35.36" textLength="132.6" lengthAdjust="spacingAndGlyphs">MDC-A5</text><text x="786.8" y="1262.3" font-size="34.76" textLength="164.7" lengthAdjust="spacingAndGlyphs">(Miocene)</text>
<text x="1084.52" y="1300.2" font-size="34.97" textLength="191.06" lengthAdjust="spacingAndGlyphs">Modern ICS</text>
<path d="M355.4 793.2L311.8 792.5" stroke="#000" stroke-width="2.6" stroke-linecap="round"/><path d="M325.21 786.04L311.8 792.5L324.99 799.38" fill="none" stroke="#000" stroke-width="2.6" stroke-linecap="round" stroke-linejoin="round"/>
<path d="M727.3 870.7L640.5 935.5" stroke="#000" stroke-width="2.6" stroke-linecap="round"/><path d="M647.17 922.2L640.5 935.5L655.15 932.89" fill="none" stroke="#000" stroke-width="2.6" stroke-linecap="round" stroke-linejoin="round"/>
<path d="M1218.9 946.6L1241.6 1051" stroke="#000" stroke-width="2.6" stroke-linecap="round"/><path d="M1232.26 1039.42L1241.6 1051L1245.29 1036.59" fill="none" stroke="#000" stroke-width="2.6" stroke-linecap="round" stroke-linejoin="round"/>
<path d="M344.7 1032.2L302.5 961.9" stroke="#000" stroke-width="2.6" stroke-linecap="round"/><path d="M315.06 969.87L302.5 961.9L303.63 976.74" fill="none" stroke="#000" stroke-width="2.6" stroke-linecap="round" stroke-linejoin="round"/>
<path d="M560.3 1151.7Q500 960 311.4 894.5" fill="none" stroke="#000" stroke-width="2.6" stroke-linecap="round"/><path d="M326.15 892.56L311.4 894.5L321.78 905.16" fill="none" stroke="#000" stroke-width="2.6" stroke-linecap="round" stroke-linejoin="round"/>
<path d="M917.6 1277.6L977.3 1331.4" stroke="#000" stroke-width="2.6" stroke-linecap="round"/><path d="M962.95 1327.45L977.3 1331.4L971.89 1317.54" fill="none" stroke="#000" stroke-width="2.6" stroke-linecap="round" stroke-linejoin="round"/>
<path d="M1192.2 1264.2L1223.2 1195.7" stroke="#000" stroke-width="2.6" stroke-linecap="round"/><path d="M1223.79 1210.57L1223.2 1195.7L1211.64 1205.07" fill="none" stroke="#000" stroke-width="2.6" stroke-linecap="round" stroke-linejoin="round"/>
</svg></body></html>
